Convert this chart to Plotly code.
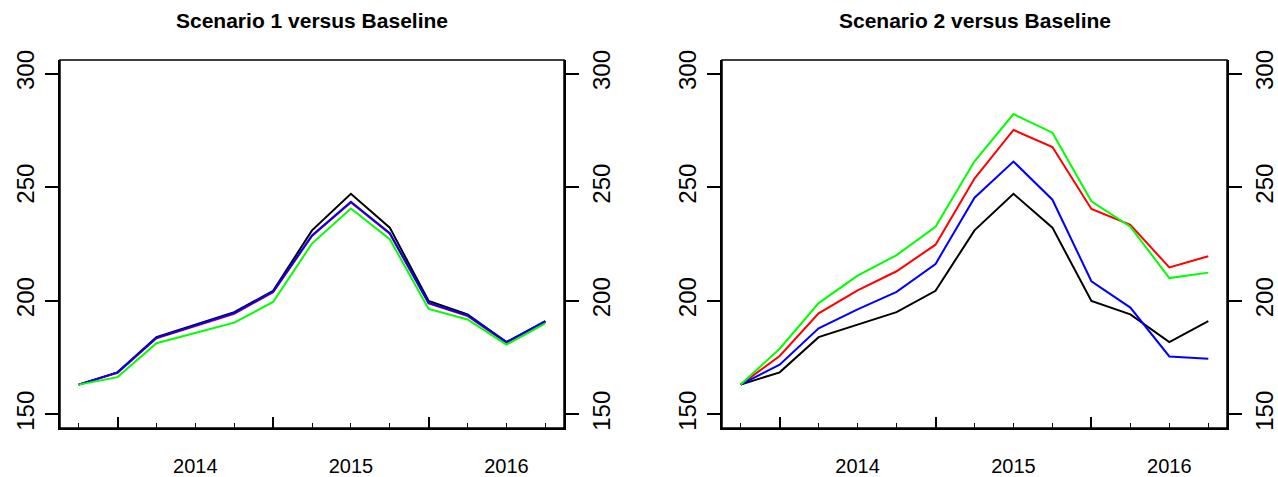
import plotly.graph_objects as go

# ---------------- data ----------------
quarters = [2013.75 + 0.25 * i for i in range(13)]
year_bounds = [2014, 2015, 2016]
year_mid = [2014.5, 2015.5, 2016.5]
year_labels = ["2014", "2015", "2016"]
y_ticks = [150, 200, 250, 300]

baseline = [163.1, 168.5, 184.0, 189.5, 195.0, 204.4, 231.0, 247.1, 232.2, 199.9, 194.0, 181.8, 191.1]

s1_red = [163.1, 168.3, 183.5, 189.0, 194.3, 203.8, 228.5, 243.3, 229.5, 198.8, 193.3, 181.5, 190.6]
s1_blue = [163.1, 168.5, 183.7, 189.2, 194.6, 204.0, 228.8, 243.6, 229.8, 199.1, 193.6, 181.8, 190.9]
s1_green = [163.1, 166.4, 181.3, 185.8, 190.4, 199.5, 225.2, 240.6, 227.1, 196.4, 191.8, 180.7, 190.1]

s2_red = [163.1, 175.7, 194.5, 204.6, 213.0, 224.7, 253.8, 275.2, 267.7, 240.4, 233.4, 214.7, 219.6]
s2_blue = [163.1, 171.9, 187.9, 196.2, 203.9, 216.2, 245.4, 261.3, 244.5, 208.6, 197.0, 175.5, 174.5]
s2_green = [163.1, 178.9, 199.0, 211.1, 220.1, 232.6, 261.4, 282.2, 274.0, 243.8, 232.6, 210.0, 212.4]

titles = ["Scenario 1 versus Baseline", "Scenario 2 versus Baseline"]

# ---------------- figure ----------------
W, H = 1278, 477
FONT = "Liberation Sans, Arial, Helvetica, sans-serif"
fig = go.Figure()

panels = [
    dict(series=[(baseline, "black"), (s1_red, "#FF0000"), (s1_blue, "#0000FF"), (s1_green, "#00FF00")],
         px=(60, 564)),
    dict(series=[(baseline, "black"), (s2_red, "#FF0000"), (s2_blue, "#0000FF"), (s2_green, "#00FF00")],
         px=(722, 1227)),
]

ydom = [(H - 428) / H, (H - 60) / H]
span = quarters[-1] - quarters[0]
xr = [quarters[0] - 0.04 * span, quarters[-1] + 0.04 * span]
yr = [150 - 0.04 * 150, 300 + 0.04 * 150]

layout = dict(
    width=W, height=H, margin=dict(l=0, r=0, t=0, b=0, pad=0), autosize=False,
    paper_bgcolor="white", plot_bgcolor="white", showlegend=False,
    font=dict(family=FONT, size=20, color="black"),
)

shapes = []
annotations = []
for p, panel in enumerate(panels):
    xi = 2 * p + 1      # main x axis index
    xl = 2 * p + 2      # label x axis index
    yi = 2 * p + 1      # left y
    yr_i = 2 * p + 2    # right y
    xn = "x" if xi == 1 else f"x{xi}"
    yn = "y" if yi == 1 else f"y{yi}"
    dom = [panel["px"][0] / W, panel["px"][1] / W]

    for vals, col in panel["series"]:
        fig.add_trace(go.Scatter(x=quarters, y=vals, mode="lines",
                                 line=dict(color=col, width=2),
                                 xaxis=xn, yaxis=yn, hoverinfo="skip"))
    # invisible helper traces so that the overlay axes get drawn
    fig.add_trace(go.Scatter(x=quarters, y=panel["series"][0][0], mode="lines",
                             line=dict(width=0), opacity=0, xaxis=f"x{xl}",
                             yaxis=f"y{yr_i}", hoverinfo="skip"))

    xkey = "xaxis" if xi == 1 else f"xaxis{xi}"
    layout[xkey] = dict(
        domain=dom, range=xr, anchor=yn, showgrid=False, zeroline=False,
        automargin=False, fixedrange=True,
        showline=True, linecolor="black", linewidth=2,
        tickmode="array", tickvals=year_bounds, ticks="inside", ticklen=11,
        tickwidth=1.5, tickcolor="black", showticklabels=False,
        minor=dict(tickmode="array", tickvals=quarters, ticks="inside",
                   ticklen=5, tickwidth=1.3, tickcolor="black", showgrid=False),
    )
    layout[f"xaxis{xl}"] = dict(
        domain=dom, range=xr, anchor=f"y{yr_i}", overlaying=xn, side="bottom",
        showgrid=False, zeroline=False, showline=False,
        automargin=False, fixedrange=True,
        tickmode="array", tickvals=year_mid, ticktext=year_labels, ticks="",
        ticklabelstandoff=24, tickfont=dict(size=20),
    )
    ykey = "yaxis" if yi == 1 else f"yaxis{yi}"
    layout[ykey] = dict(
        domain=ydom, range=yr, anchor=xn, showgrid=False, zeroline=False,
        automargin=False, fixedrange=True,
        showline=True, linecolor="black", linewidth=1.5,
        tickmode="array", tickvals=y_ticks, ticks="outside", ticklen=13,
        tickwidth=1.5, tickcolor="black", tickangle=-90, tickfont=dict(size=24),
        ticklabelstandoff=2,
    )
    layout[f"yaxis{yr_i}"] = dict(
        domain=ydom, range=yr, anchor=f"x{xl}", overlaying=yn, side="right",
        showgrid=False, zeroline=False,
        automargin=False, fixedrange=True,
        showline=True, linecolor="black", linewidth=1.5,
        tickmode="array", tickvals=y_ticks, ticks="outside", ticklen=13,
        tickwidth=1.5, tickcolor="black", tickangle=-90, tickfont=dict(size=24),
        ticklabelstandoff=2,
    )
    shapes.append(dict(type="rect", xref=f"{xn} domain", yref=f"{yn} domain",
                       x0=0, x1=1, y0=0, y1=1, line=dict(color="black", width=1.5),
                       layer="above"))
    annotations.append(dict(text=f"<b>{titles[p]}</b>", xref="paper", yref="paper",
                            x=(dom[0] + dom[1]) / 2, y=(H - 21) / H,
                            xanchor="center", yanchor="middle", showarrow=False,
                            font=dict(size=21, family=FONT)))

layout["shapes"] = shapes
layout["annotations"] = annotations
fig.update_layout(**layout)
fig.write_html("out.html", config={"displayModeBar": False},
               post_script="document.body.style.margin='0px';")
